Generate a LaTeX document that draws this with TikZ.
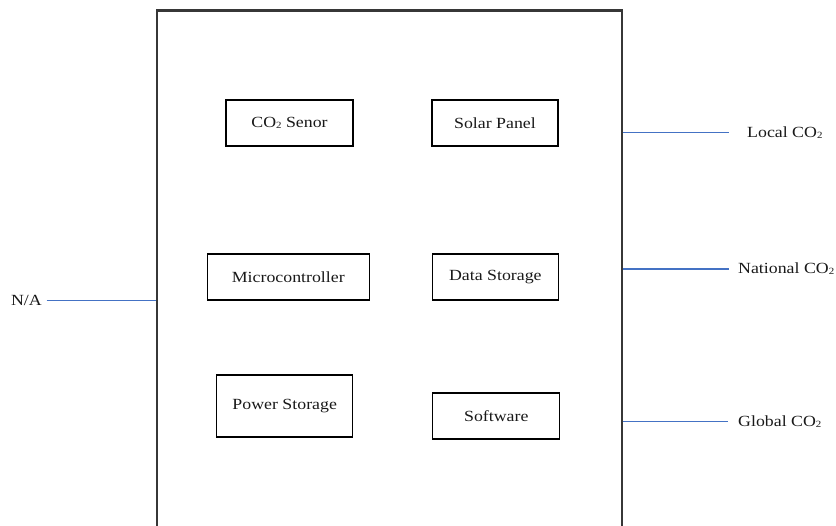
\documentclass[tikz,border=0pt]{standalone}
\usepackage{fontspec}
\setmainfont{Liberation Serif}[FakeStretch=1.15]
\definecolor{linkblue}{RGB}{68,114,196}
\definecolor{boxgray}{RGB}{55,55,55}
\definecolor{txt}{RGB}{25,25,25}
\tikzset{
  comp/.style={draw=black, line width=1.1pt, inner sep=0pt, text=txt,
    font=\fontsize{15.5}{18}\selectfont},
  outer/.style={draw=boxgray, line width=2.1pt, inner sep=0pt},
  lbl/.style={inner sep=0pt, text=txt, font=\fontsize{15.5}{18}\selectfont},
  link/.style={draw=linkblue, line width=1.4pt}
}
\newcommand{\cotwo}{CO\raisebox{-0.15ex}{\fontsize{9.5}{10}\selectfont 2}}
\begin{document}
\begin{tikzpicture}[x=1pt,y=-1pt]
\useasboundingbox (0,0) rectangle (836,526);
\fill[white] (0,0) rectangle (836,526);
% main enclosure (bottom edge lies beyond the picture)
\node[outer, anchor=north west, minimum width=465pt, minimum height=560pt] (big) at (155.5,9.5) {};
% components
\node[comp, minimum width=127pt, minimum height=46pt] (co2) at (289.5,123) {\cotwo\ Senor};
\node[comp, minimum width=126pt, minimum height=46pt] (solar) at (495,123) {Solar Panel};
\node[comp, minimum width=162pt, minimum height=46pt] (micro) at (288.3,277) {Microcontroller};
\node[comp, minimum width=126pt, minimum height=46pt] (data) at (495.3,277) {Data Storage};
\node[comp, minimum width=136pt, minimum height=62pt] (power) at (284.7,406) {Power Storage};
\node[comp, minimum width=127pt, minimum height=46pt] (soft) at (496.3,416) {Software};
% external labels
\node[lbl, anchor=east] (na) at (42,300.5) {N/A};
\node[lbl, anchor=west] (local) at (747,132.5) {Local \cotwo};
\node[lbl, anchor=west] (national) at (738,269) {National \cotwo};
\node[lbl, anchor=west] (global) at (738,421.5) {Global \cotwo};
% connectors
\draw[link] ([xshift=4.5pt]na.east) -- (na.east -| big.west);
\draw[link] (big.east |- local.west) -- ([xshift=-18pt]local.west);
\draw[link] (big.east |- national.west) -- ([xshift=-9pt]national.west);
\draw[link] (big.east |- global.west) -- ([xshift=-10pt]global.west);
\end{tikzpicture}
\end{document}
